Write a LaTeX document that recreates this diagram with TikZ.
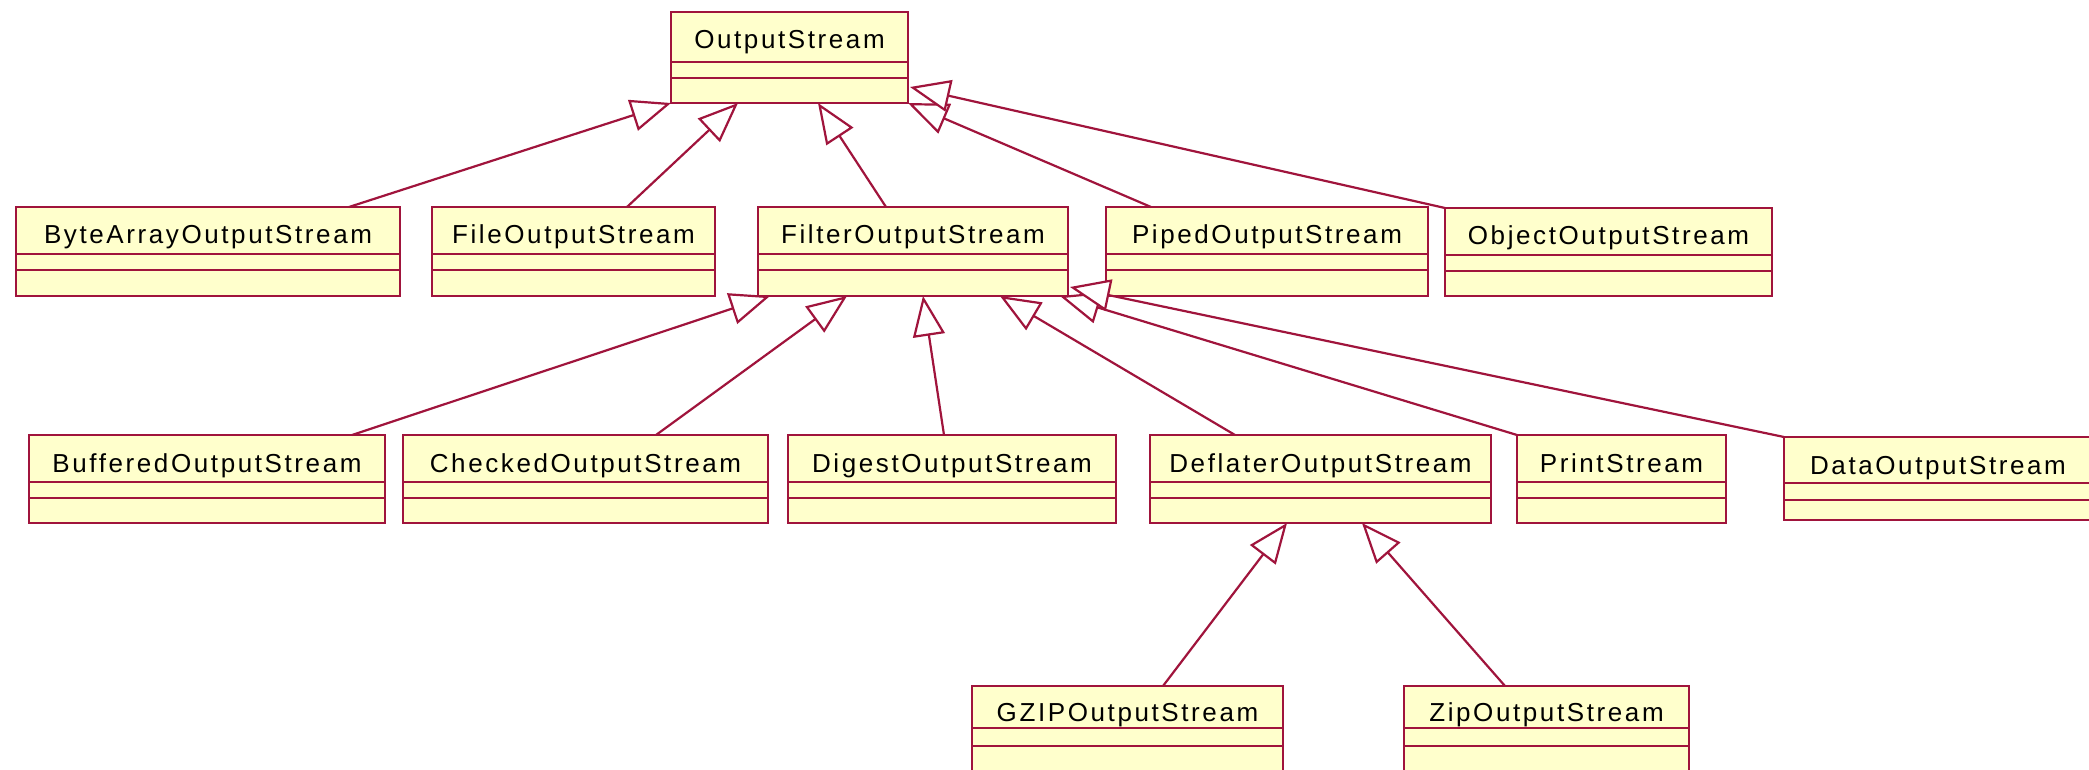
\documentclass[tikz,border=0pt]{standalone}
\usepackage{fontspec}
\setmainfont{Liberation Sans}[LetterSpace=10]
\usetikzlibrary{arrows.meta,fit}

\definecolor{roseline}{RGB}{160,20,60}
\definecolor{rosefill}{RGB}{255,255,204}

\tikzset{
  classbox/.style={draw=roseline, fill=rosefill, line width=1.2pt, inner sep=0pt, outer sep=0pt},
  classrule/.style={draw=roseline, line width=1.2pt},
  classname/.style={font=\fontsize{13}{15}\selectfont, text=black, anchor=base, inner sep=0pt},
  inherits/.style={draw=roseline, line width=1.1pt,
    -{Triangle[open, length=20pt, width=16pt, fill=white, line width=1.1pt]}},
}

% #1 name, #2/#3 left/right, #4/#5 top/bottom, #6/#7 divider offsets,
% #8 baseline offset of the class name, #9 class name
\newcommand{\umlclass}[9]{%
  \coordinate (#1-nw) at (#2,#4);
  \coordinate (#1-se) at (#3,#5);
  \node[classbox, fit=(#1-nw)(#1-se)] (#1) {};
  \draw[classrule] (#2,{#4+#6}) -- (#3,{#4+#6});
  \draw[classrule] (#2,{#4+#7}) -- (#3,{#4+#7});
  \node[classname] at ({(#2+#3)/2},{#4+#8}) {#9};
}

\begin{document}
\begin{tikzpicture}[x=0.5pt, y=-0.5pt]
  \useasboundingbox (0,0) rectangle (2089,770);
  \fill[white] (0,0) rectangle (2089,770);

  % root
  \umlclass{OutputStream}{671}{908}{12}{103}{50}{66}{37}{OutputStream}

  % direct subclasses
  \umlclass{ByteArray}{16}{400}{207}{296}{47}{63}{37}{ByteArrayOutputStream}
  \umlclass{File}{432}{715}{207}{296}{47}{63}{37}{FileOutputStream}
  \umlclass{Filter}{758}{1068}{207}{296}{47}{63}{37}{FilterOutputStream}
  \umlclass{Piped}{1106}{1428}{207}{296}{47}{63}{37}{PipedOutputStream}
  \umlclass{Object}{1445}{1772}{208}{296}{47}{63}{37}{ObjectOutputStream}

  % filter streams
  \umlclass{Buffered}{29}{385}{435}{523}{47}{63}{37}{BufferedOutputStream}
  \umlclass{Checked}{403}{768}{435}{523}{47}{63}{37}{CheckedOutputStream}
  \umlclass{Digest}{788}{1116}{435}{523}{47}{63}{37}{DigestOutputStream}
  \umlclass{Deflater}{1150}{1491}{435}{523}{47}{63}{37}{DeflaterOutputStream}
  \umlclass{Print}{1517}{1726}{435}{523}{47}{63}{37}{PrintStream}
  \umlclass{Data}{1784}{2092}{437}{520}{46}{63}{37}{DataOutputStream}

  % deflater streams
  \umlclass{GZIP}{972}{1283}{686}{790}{42}{60}{35}{GZIPOutputStream}
  \umlclass{Zip}{1404}{1689}{686}{790}{42}{60}{35}{ZipOutputStream}

  % generalizations
  \draw[inherits] ([xshift=166.5pt]ByteArray.north west) -- (OutputStream.south west);
  \draw[inherits] ([xshift=97.5pt]File.north west) -- ([xshift=33.5pt]OutputStream.south west);
  \draw[inherits] ([xshift=64pt]Filter.north west) -- ([xshift=73.5pt]OutputStream.south west);
  \draw[inherits] ([xshift=22.5pt]Piped.north west) -- (OutputStream.south east);
  \draw[inherits] (Object.north west) -- ([xshift=1pt,yshift=8pt]OutputStream.south east);

  \draw[inherits] ([xshift=161.5pt]Buffered.north west) -- ([xshift=6pt]Filter.south west);
  \draw[inherits] ([xshift=126.5pt]Checked.north west) -- ([xshift=44.5pt]Filter.south west);
  \draw[inherits] ([xshift=78pt]Digest.north west) -- ([xshift=82.5pt]Filter.south west);
  \draw[inherits] ([xshift=42.5pt]Deflater.north west) -- ([xshift=121pt]Filter.south west);
  \draw[inherits] (Print.north west) -- ([xshift=-4pt]Filter.south east);
  \draw[inherits] (Data.north west) -- ([xshift=1pt,yshift=4.5pt]Filter.south east);

  \draw[inherits] ([xshift=95.5pt]GZIP.north west) -- ([xshift=68.5pt]Deflater.south west);
  \draw[inherits] ([xshift=50.5pt]Zip.north west) -- ([xshift=106pt]Deflater.south west);
\end{tikzpicture}
\end{document}
